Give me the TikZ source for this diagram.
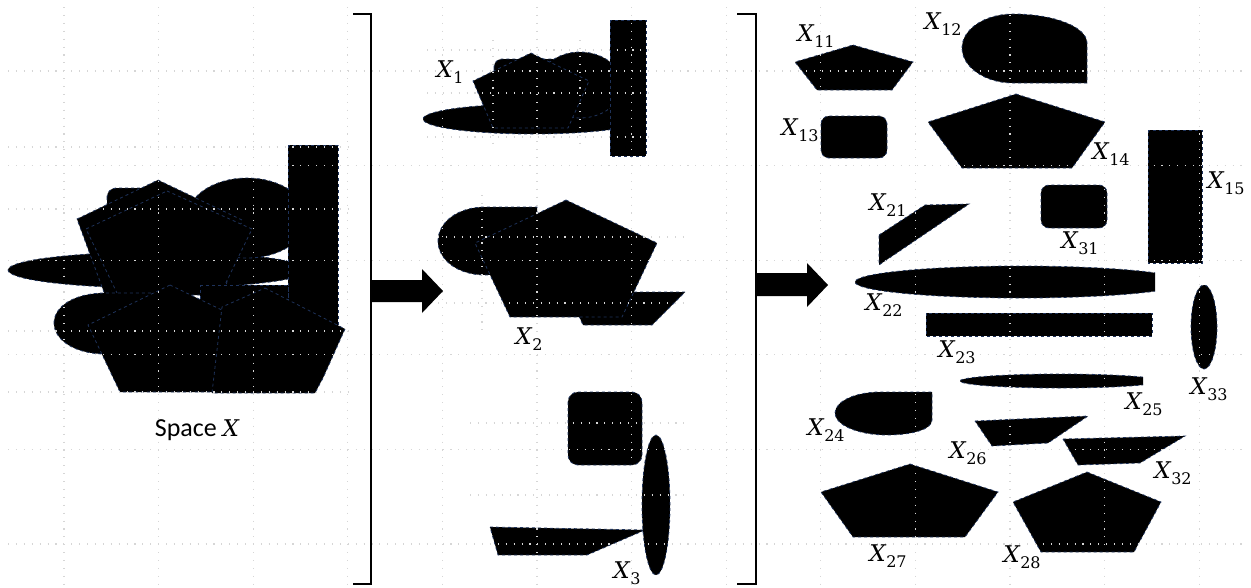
\documentclass[tikz,border=0pt]{standalone}
\usepackage{fontspec}
\setmainfont{Carlito}
\newfontfamily\xfont{DejaVu Serif}
\newcommand\Xs[1]{{\fontsize{23}{23}\selectfont\xfont\itshape X}\kern0.5pt\raisebox{-6pt}{\fontsize{16}{16}\selectfont\xfont #1}}
\definecolor{edgeblue}{RGB}{30,50,90}
\tikzset{
  piece/.style={fill=black, draw=edgeblue, dashed, line width=0.8pt},
  gridline/.style={draw=black!16, line width=1.1pt, dash pattern=on 1.1pt off 6.8pt},
  lbl/.style={inner sep=0pt},
  bracket/.style={draw=black, line width=2.8pt},
  blockarrow/.style={fill=black}
}
\begin{document}
\begin{tikzpicture}[x=1pt,y=-1pt]
\useasboundingbox (0,0) rectangle (1251,587);

% ---------- Space X cluster ----------
\path[piece] (158,270) ellipse [x radius=150pt, y radius=18pt];
\path[piece] (247,218) ellipse [x radius=60pt, y radius=40pt];
\path[piece, rounded corners=9pt] (107,188) rectangle (175,240);
\path[piece] (158,180) -- (242,220) -- (225,290) -- (105,295) -- (77,219) -- cycle;
\path[piece] (167,191) -- (252,229) -- (220,295) -- (118,295) -- (86,229) -- cycle;
\path[piece] (54,323) .. controls (54,306) and (75,293) .. (105,293) -- (160,293) -- (160,354) -- (105,354) .. controls (75,354) and (54,340) .. (54,323) -- cycle;
\path[piece] (288,145) rectangle (338,330);
\path[piece] (200,285) -- (288,285) -- (288,330) -- (200,330) -- cycle;
\path[piece] (170,285) -- (253,325) -- (225,392) -- (120,392) -- (88,325) -- cycle;
\path[piece] (265,288) -- (345,329) -- (323,378) -- (315,393) -- (212,393) -- (222,307) -- cycle;

% ---------- X1 ----------
\path[piece] (533,119) ellipse [x radius=110pt, y radius=15pt];
\path[piece, rounded corners=8pt] (494,59) rectangle (560,100);
\path[piece] (580,85) ellipse [x radius=42pt, y radius=33pt];
\path[piece] (531,53) -- (589,81) -- (568,128) -- (493,128) -- (473,81) -- cycle;
\path[piece] (610,20) rectangle (646,156);

% ---------- X2 ----------
\path[piece] (438,241) .. controls (438,222) and (458,207) .. (485,207) -- (537,207) -- (537,260) .. controls (530,272) and (505,275) .. (485,275) .. controls (458,275) and (438,260) .. (438,241) -- cycle;
\path[piece] (568,292) -- (685,292) -- (652,325) -- (583,325) -- cycle;
\path[piece] (566,200) -- (657,243) -- (622,317) -- (510,317) -- (475,243) -- cycle;

% ---------- X3 ----------
\path[piece] (490,527) -- (645,530) -- (587,555) -- (498,555) -- cycle;
\path[piece, rounded corners=10pt] (568,392) rectangle (642,465);
\path[piece] (656,505) ellipse [x radius=14pt, y radius=70pt];

% ---------- pieces on the right ----------
% X11
\path[piece] (853,45) -- (913,62) -- (892,90) -- (817,90) -- (795,62) -- cycle;
% X12
\path[piece] (962,48) .. controls (962,29) and (985,14) .. (1013,14) .. controls (1054,14) and (1087,27) .. (1087,43) -- (1087,83) -- (1013,83) .. controls (985,83) and (962,67) .. (962,48) -- cycle;
% X13
\path[piece, rounded corners=8pt] (821,116) rectangle (887,158);
% X14
\path[piece] (1016,94) -- (1105,122) -- (1072,168) -- (962,168) -- (928,122) -- cycle;
% X15
\path[piece] (1148,130) rectangle (1202,263);
% X31
\path[piece, rounded corners=8pt] (1041,185) rectangle (1107,228);
% X21
\path[piece] (879,235) -- (925,205) -- (969,204) -- (879,265) -- cycle;
% X22
\begin{scope}
  \clip (840,255) rectangle (1155,305);
  \path[piece] (1020,282) ellipse [x radius=165pt, y radius=16pt];
\end{scope}
% X23
\path[piece] (926,313) rectangle (1152,336);
% X33
\path[piece] (1204,327) ellipse [x radius=13pt, y radius=42pt];
% X25
\begin{scope}
  \clip (950,370) rectangle (1143,392);
  \path[piece] (1060,381) ellipse [x radius=100pt, y radius=7pt];
\end{scope}
% X24
\path[piece] (835,413) .. controls (835,401) and (856,392) .. (880,392) -- (932,392) -- (932,420) .. controls (932,430) and (910,435) .. (887,435) .. controls (858,435) and (835,425) .. (835,413) -- cycle;
% X26
\path[piece] (975,421) -- (1088,416) -- (1048,443) -- (992,446) -- cycle;
% X32
\path[piece] (1063,439) -- (1185,436) -- (1140,463) -- (1078,465) -- cycle;
% X27
\path[piece] (910,464) -- (998,492) -- (965,537) -- (853,537) -- (821,492) -- cycle;
% X28
\path[piece] (1087,472) -- (1161,502) -- (1134,552) -- (1041,552) -- (1013,502) -- cycle;

% ---------- grid (on top) ----------
\foreach \gx in {64,158.6,253.2,347.8,442.4,537,631.6,726.2,820.8,915.4,1010,1104.6,1199.2}
  \draw[gridline] (\gx,7) -- (\gx,587);
\foreach \gy in {71,165.6,260.2,354.8,449.4,544}
  \draw[gridline] (8,\gy) -- (1245,\gy);
% extra dotted lines of the pasted pictures
\foreach \gy in {147,209,331,392}
  \draw[gridline] (8,\gy) -- (348,\gy);
\foreach \gy in {50,93,137}
  \draw[gridline] (427,\gy) -- (652,\gy);
\foreach \gx in {493,580}
  \draw[gridline] (\gx,40) -- (\gx,150);
\foreach \gy in {237,303}
  \draw[gridline] (438,\gy) -- (690,\gy);
\draw[gridline] (482,195) -- (482,335);
\foreach \gy in {423,495}
  \draw[gridline] (470,\gy) -- (690,\gy);

% ---------- brackets and arrows ----------
\draw[bracket] (353,14) -- (371,14) -- (371,584) -- (353,584);
\draw[bracket] (737,14) -- (756,14) -- (756,584) -- (737,584);
\path[blockarrow] (371,280) -- (422,280) -- (422,269) -- (443,291) -- (422,313) -- (422,302) -- (371,302) -- cycle;
\path[blockarrow] (756,273) -- (807,273) -- (807,263) -- (828,285) -- (807,307) -- (807,296) -- (756,296) -- cycle;

% ---------- labels ----------
\node[lbl] (lspace) at (197,430) {\fontsize{26}{26}\selectfont Space {\fontsize{23}{23}\selectfont\xfont\itshape X}};
\node[lbl] (lX1) at (450,72) {\Xs{1}};
\node[lbl] (lX2) at (529,339) {\Xs{2}};
\node[lbl] (lX3) at (627,573) {\Xs{3}};
\node[lbl] (lX11) at (816,36) {\Xs{11}};
\node[lbl] (lX12) at (943,24) {\Xs{12}};
\node[lbl] (lX13) at (800,130) {\Xs{13}};
\node[lbl] (lX14) at (1111,154) {\Xs{14}};
\node[lbl] (lX15) at (1226,183) {\Xs{15}};
\node[lbl] (lX21) at (888,205) {\Xs{21}};
\node[lbl] (lX31) at (1080,243) {\Xs{31}};
\node[lbl] (lX22) at (884,305) {\Xs{22}};
\node[lbl] (lX23) at (957,352) {\Xs{23}};
\node[lbl] (lX33) at (1209,389) {\Xs{33}};
\node[lbl] (lX25) at (1144,404) {\Xs{25}};
\node[lbl] (lX24) at (826,430) {\Xs{24}};
\node[lbl] (lX26) at (968,453) {\Xs{26}};
\node[lbl] (lX32) at (1173,473) {\Xs{32}};
\node[lbl] (lX27) at (888,556) {\Xs{27}};
\node[lbl] (lX28) at (1022,557) {\Xs{28}};
\end{tikzpicture}
\end{document}
